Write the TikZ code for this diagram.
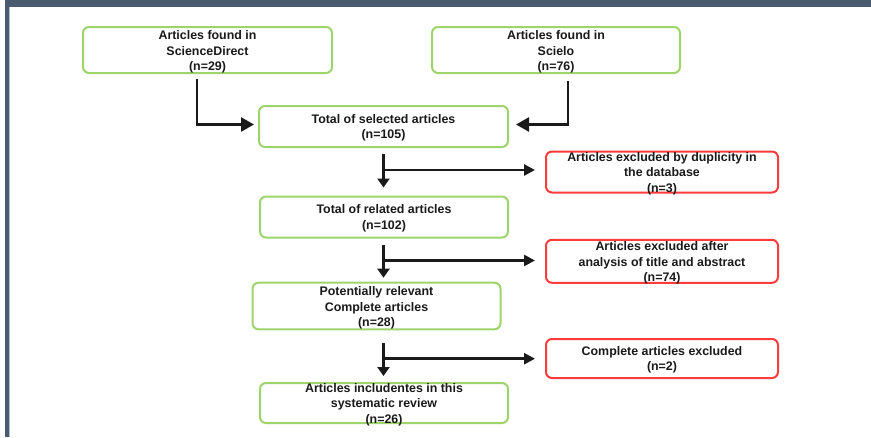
\documentclass[tikz,border=0pt]{standalone}
\usepackage{fontspec}
\setmainfont{Liberation Sans}
\usetikzlibrary{arrows.meta,calc}
\definecolor{barc}{HTML}{4A5A6F}
\definecolor{barl}{HTML}{B4C0CE}
\definecolor{boxg}{HTML}{9DD56C}
\definecolor{boxr}{HTML}{FF3B3B}
\definecolor{txt}{HTML}{1A1A1A}
\begin{document}
\begin{tikzpicture}[x=1pt,y=-1pt,
  box/.style={rounded corners=6pt, line width=2pt, fill=white, inner sep=0pt, anchor=center},
  gbox/.style={box, draw=boxg},
  rbox/.style={box, draw=boxr},
  txtn/.style={inner sep=0pt, align=center, text=txt, font=\fontsize{12.4}{15.5}\selectfont\bfseries},
  bigarr/.style={line width=2.6pt, draw=txt, -{Triangle[length=13pt,width=14pt]}},
  downarr/.style={line width=2.6pt, draw=txt, -{Triangle[length=9pt,width=12pt]}},
  sidearr/.style={line width=2.6pt, draw=txt, -{Triangle[length=11pt,width=11pt]}}]
\useasboundingbox (0,0) rectangle (871,437);
\fill[white] (0,0) rectangle (871,437);
% frame
\fill[barc] (5,0) rectangle (871,7);
\fill[barc] (5,7) rectangle (9,437);
\fill[barl] (9,7) rectangle (10,437);
% boxes
\node[gbox, minimum width=249pt, minimum height=46pt] (sd) at (207.5,50) {};
\node[gbox, minimum width=248pt, minimum height=46pt] (sc) at (556,50) {};
\node[gbox, minimum width=249pt, minimum height=41pt] (sel) at (383.5,126.5) {};
\node[rbox, minimum width=232pt, minimum height=41pt] (ex1) at (662,172) {};
\node[gbox, minimum width=248pt, minimum height=41pt] (rel) at (384,217) {};
\node[rbox, minimum width=232pt, minimum height=43pt] (ex2) at (662,261.3) {};
\node[gbox, minimum width=248pt, minimum height=46.6pt] (pot) at (376.5,306) {};
\node[rbox, minimum width=232pt, minimum height=39pt] (ex3) at (662,358.5) {};
\node[gbox, minimum width=248pt, minimum height=40pt] (fin) at (384,403) {};
% texts
\node[txtn] (sdt) at ($(sd)+(0,2)$) {Articles found in\\ScienceDirect\\(n=29)};
\node[txtn] (sct) at ($(sc)+(0,2)$) {Articles found in\\Scielo\\(n=76)};
\node[txtn] (selt) at ($(sel)+(0,1.5)$) {Total of selected articles\\(n=105)};
\node[txtn] (ex1t) at ($(ex1)+(0,1.5)$) {Articles excluded by duplicity in\\the database\\(n=3)};
\node[txtn] (relt) at ($(rel)+(0,1.5)$) {Total of related articles\\(n=102)};
\node[txtn] (ex2t) at ($(ex2)+(0,1.5)$) {Articles excluded after\\analysis of title and abstract\\(n=74)};
\node[txtn] (pott) at ($(pot)+(0,2)$) {Potentially relevant\\Complete articles\\(n=28)};
\node[txtn] (ex3t) at ($(ex3)+(0,1.5)$) {Complete articles excluded\\(n=2)};
\node[txtn] (fint) at ($(fin)+(0,1.5)$) {Articles includentes in this\\systematic review\\(n=26)};
% top arrows
\draw[bigarr] ($(sd.south)+(-10.5,5)$) |- ($(sel.west)+(-4,-2)$);
\draw[bigarr] ($(sc.south)+(12,7)$) |- ($(sel.east)+(7,-2)$);
% branch points
\coordinate (b1) at ($(sel.south)+(0,22)$);
\coordinate (b2) at ($(sel.south |- rel.south)+(0,22)$);
\coordinate (b3) at ($(sel.south |- pot.south)+(0,28.4)$);
% vertical arrows
\draw[downarr] ($(sel.south)+(0,6)$) -- ($(sel.south |- rel.north)+(0,-8)$);
\draw[downarr] ($(sel.south |- rel.south)+(0,6)$) -- ($(sel.south |- pot.north)+(0,-4)$);
\draw[downarr] ($(sel.south |- pot.south)+(0,13)$) -- ($(sel.south |- fin.north)+(0,-6)$);
% side arrows
\draw[sidearr, shorten >=10pt] (b1) -- (b1 -| ex1.west);
\draw[sidearr, shorten >=10pt] (b2) -- (b2 -| ex2.west);
\draw[sidearr, shorten >=10pt] (b3) -- (b3 -| ex3.west);
\end{tikzpicture}
\end{document}
